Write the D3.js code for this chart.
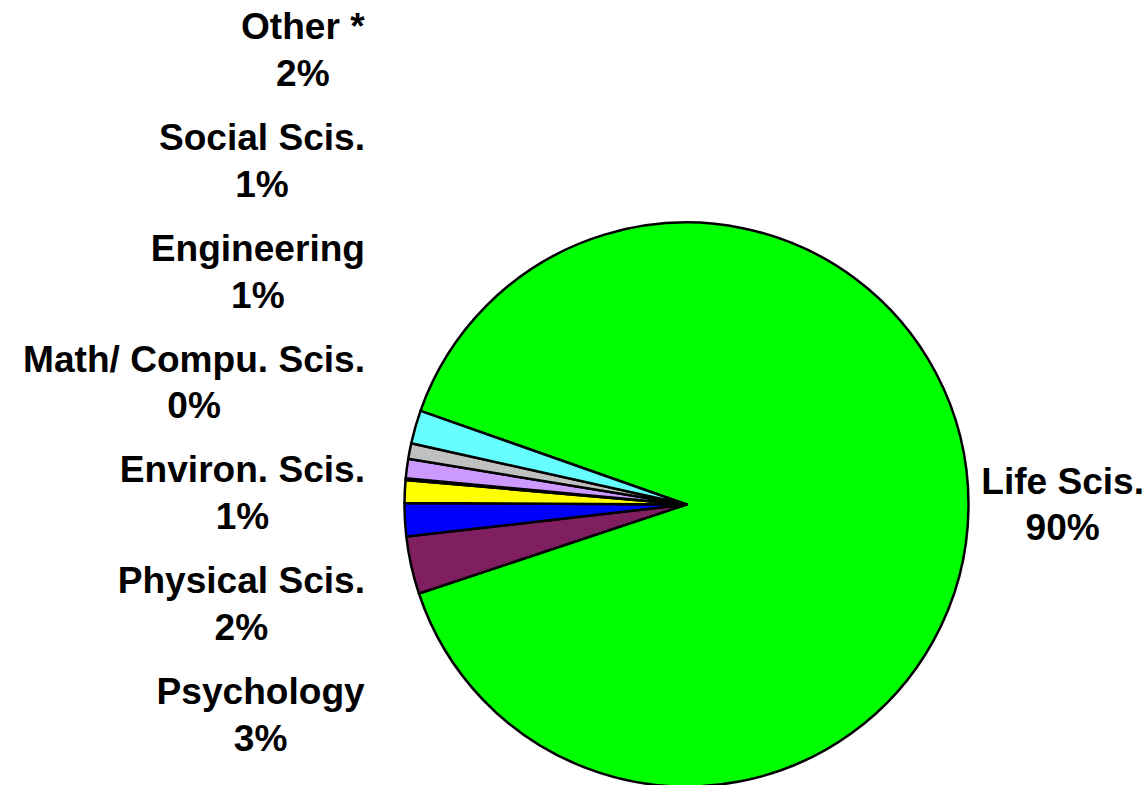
<!DOCTYPE html>
<html>
<head>
<meta charset="utf-8">
<script src="https://cdn.jsdelivr.net/npm/d3@7"></script>
<style>
  html, body { margin: 0; padding: 0; background: #fff; }
  text { font-family: "Liberation Sans", Arial, sans-serif; font-weight: bold; fill: #000; }
</style>
</head>
<body>
<script>
// fields, in the order Excel draws them (clockwise)
const fields = ["Life Scis.", "Psychology", "Physical Scis.", "Environ. Scis.",
  "Math/ Compu. Scis.", "Engineering", "Social Scis.", "Other *"];
const shares = [89.5, 3.3, 1.9, 1.3, 0.1, 1.1, 0.9, 1.9];
const colors = ["#00ff00", "#7f1f5f", "#0000ff", "#ffff00",
  "#ffffff", "#cc99ff", "#c0c0c0", "#66ffff"];
// left column of labels, top to bottom
const leftLabels = ["Other *", "Social Scis.", "Engineering", "Math/ Compu. Scis.",
  "Environ. Scis.", "Physical Scis.", "Psychology"];

const width = 1147, height = 785;
const cx = 686.5, cy = 504.5, radius = 282;
const fontSize = 36, lineGap = 47, stretch = 1.03;
const rotation = 289.4 * Math.PI / 180; // first slice starts here

const svg = d3.select("body").append("svg")
  .attr("width", width)
  .attr("height", height);

const data = fields.map((f, i) => ({ name: f, value: shares[i], color: colors[i] }));

const pie = d3.pie()
  .value(d => d.value)
  .sort(null)
  .startAngle(rotation)
  .endAngle(rotation + 2 * Math.PI);

const arc = d3.arc().innerRadius(0).outerRadius(radius);

svg.append("g")
  .attr("transform", `translate(${cx},${cy})`)
  .selectAll("path")
  .data(pie(data))
  .join("path")
  .attr("d", arc)
  .attr("fill", d => d.data.color)
  .attr("stroke", "#000")
  .attr("stroke-width", 2.5)
  .attr("stroke-linejoin", "round");

// two line label block: name, then rounded percent
function labelBlock(g, d) {
  const inner = g.append("g").attr("transform", `scale(${stretch},1)`);
  inner.append("text")
    .attr("font-size", fontSize)
    .attr("text-anchor", "middle")
    .text(d.name);
  inner.append("text")
    .attr("font-size", fontSize)
    .attr("y", lineGap)
    .attr("text-anchor", "middle")
    .text(Math.round(d.value) + "%");
  return inner.node().getBBox().width * stretch;
}

// left labels, stacked, right edge at about x=365
const yLeft = d3.scalePoint().domain(leftLabels).range([39, 704]);
const rightEdge = 365;

leftLabels.forEach(name => {
  const d = data.find(e => e.name === name);
  const g = svg.append("g");
  const w = labelBlock(g, d);
  g.attr("transform", `translate(${rightEdge - w / 2},${yLeft(name)})`);
});

// Life Scis. to the right of the pie
{
  const d = data[0];
  const g = svg.append("g");
  const w = labelBlock(g, d);
  g.attr("transform", `translate(${Math.min(cx + radius + 15 + w / 2, width - 3 - w / 2)},${cy - 11})`);
}
</script>
</body>
</html>
